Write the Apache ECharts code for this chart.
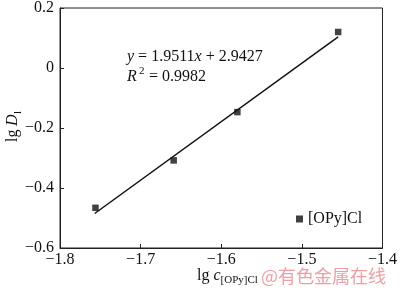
<!DOCTYPE html>
<html><head><meta charset="utf-8">
<script src="https://cdn.jsdelivr.net/npm/echarts@6/dist/echarts.min.js"></script>
<style>html,body{margin:0;padding:0;background:#fff}#c{width:400px;height:293px}</style>
</head><body><div id="c"></div>
<script>
const xTicks = [-1.8, -1.7, -1.6, -1.5, -1.4];
const yTicks = [-0.6, -0.4, -0.2, 0, 0.2];
const seriesName = '[OPy]Cl';
const pointsX = [-1.756, -1.659, -1.580, -1.455];
const pointsY = [-0.466, -0.308, -0.147, 0.120];
const fitX = [-1.757, -1.455];
const fitY = [-0.485, 0.104];

const F = '"Liberation Serif","Times New Roman",serif';
const minus = v => String(Math.round(v*10)/10).replace('-', '\u2212');
const T = (o) => Object.assign({fontFamily:F, fontSize:16, fill:'#111'}, o);
const chart = echarts.init(document.getElementById('c'), null, {renderer:'canvas'});
chart.setOption({
  animation:false,
  grid:{left:60, right:11, top:6, bottom:45, show:true, borderColor:'#222', borderWidth:1},
  xAxis:{type:'value', min:xTicks[0], max:xTicks[xTicks.length-1], interval:0.1,
    splitLine:{show:false},
    axisLine:{onZero:false, lineStyle:{color:'#222'}},
    axisTick:{inside:true,length:4,lineStyle:{color:'#222'}},
    axisLabel:{fontFamily:F, fontSize:16, color:'#111', margin:4, formatter:minus}},
  yAxis:{type:'value', min:yTicks[0], max:yTicks[yTicks.length-1], interval:0.2,
    splitLine:{show:false},
    axisLine:{onZero:false, lineStyle:{color:'#222'}},
    axisTick:{inside:true,length:4,lineStyle:{color:'#222'}},
    axisLabel:{fontFamily:F, fontSize:16, color:'#111', margin:6, formatter:minus}},
  legend:{data:[{name:seriesName, icon:'rect'}], left:291, top:206, itemWidth:7, itemHeight:7, itemGap:6,
    textStyle:{fontFamily:F, fontSize:16, color:'#111'}},
  series:[
    {name:'fit', type:'line', data:fitX.map((x,i)=>[x,fitY[i]]), symbol:'none', lineStyle:{color:'#111', width:1.5}, silent:true},
    {name:seriesName, type:'scatter', data:pointsX.map((x,i)=>[x,pointsY[i]]), symbol:'rect', symbolSize:6.5, itemStyle:{color:'#111'}}
  ],
  graphic:[
    {type:'text', left:127, top:49, style:{rich:{
      i:T({fontStyle:'italic'}), n:T({})},
      text:'{i|y}{n| = 1.9511}{i|x}{n| + 2.9427}'}},
    {type:'text', left:127, top:69, style:T({text:'R', fontStyle:'italic'})},
    {type:'text', left:139, top:66, style:T({text:'2', fontSize:11})},
    {type:'text', left:145, top:69, style:T({text:' = 0.9982'})},
    {type:'group', x:13, y:122, rotation:Math.PI/2, children:[
      {type:'text', x:-20, y:-8, style:T({text:'lg', })},
      {type:'text', x:-4, y:-8, style:T({text:'D', fontStyle:'italic'})},
      {type:'text', x:8, y:0, style:T({text:'l', fontSize:11})}
    ]},
    {type:'text', left:197, top:268, style:{rich:{
      i:T({fontStyle:'italic'}),
      s:T({fontSize:11, padding:[8,0,0,0]}),
      n:T({})},
      text:'{n|lg }{i|c}{s|[OPy]Cl}'}},
    {type:'text', left:261, top:267, style:{text:'@有色金属在线', fontFamily:'"Noto Sans CJK SC",sans-serif', fontSize:18, fill:'rgba(235,90,100,0.6)'}}
  ]
});
</script></body></html>
